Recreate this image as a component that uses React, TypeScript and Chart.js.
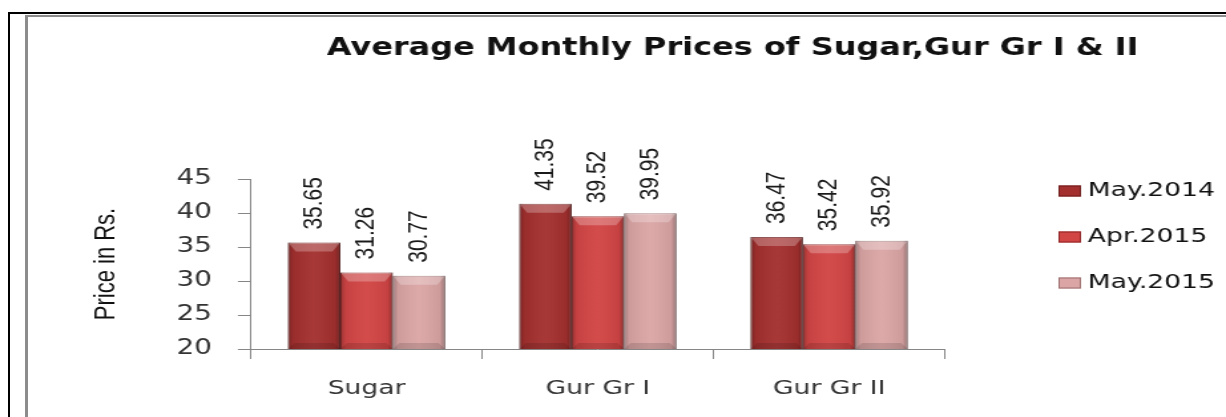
import React, { useEffect, useRef } from "react";
import { Chart, registerables } from "chart.js";

Chart.register(...registerables);

// ---- data ----
const categories = ["Sugar", "Gur Gr I", "Gur Gr II"];
const seriesLabels = ["May.2014", "Apr.2015", "May.2015"];
const may2014 = [35.65, 41.35, 36.47];
const apr2015 = [31.26, 39.52, 35.42];
const may2015 = [30.77, 39.95, 35.92];
const yTicks = [20, 25, 30, 35, 40, 45];
const chartTitle = "Average Monthly Prices of Sugar,Gur Gr I & II";
const yAxisTitle = "Price in Rs.";

// ---- styles ----
const seriesColors = ["#a3302f", "#d24545", "#dba5a5"];
const seriesBorders = ["#6e1d1d", "#8f2525", "#9c6f6f"];
const PAGE_W = 1226;
const PAGE_H = 417;
const STRETCH = 1.33; // the reference is horizontally stretched
const LOGICAL_W = Math.round(PAGE_W / STRETCH);

const bevelPlugin = {
  id: "bevel",
  afterDatasetsDraw(chart: any) {
    const ctx = chart.ctx;
    const area = chart.chartArea;
    ctx.save();
    ctx.beginPath();
    ctx.rect(area.left, area.top, area.right - area.left, area.bottom - area.top);
    ctx.clip();
    chart.data.datasets.forEach((_ds: any, di: number) => {
      const meta = chart.getDatasetMeta(di);
      meta.data.forEach((bar: any) => {
        const { x, y, base, width } = bar.getProps(["x", "y", "base", "width"], true);
        const left = x - width / 2;
        const bottom = Math.min(base, area.bottom);
        const h = bottom - y;
        const g = ctx.createLinearGradient(left, 0, left + width, 0);
        g.addColorStop(0, "rgba(0,0,0,0.28)");
        g.addColorStop(0.1, "rgba(0,0,0,0.06)");
        g.addColorStop(0.5, "rgba(255,255,255,0.04)");
        g.addColorStop(0.9, "rgba(0,0,0,0.06)");
        g.addColorStop(1, "rgba(0,0,0,0.32)");
        ctx.fillStyle = g;
        ctx.fillRect(left, y, width, h);
        // top bevel
        ctx.beginPath();
        ctx.moveTo(left, y);
        ctx.lineTo(left + width, y);
        ctx.lineTo(left + width - 6, y + 9);
        ctx.lineTo(left + 6, y + 9);
        ctx.closePath();
        ctx.fillStyle = "rgba(255,255,255,0.25)";
        ctx.fill();
        // bottom bevel
        ctx.beginPath();
        ctx.moveTo(left, bottom);
        ctx.lineTo(left + width, bottom);
        ctx.lineTo(left + width - 5, bottom - 6);
        ctx.lineTo(left + 5, bottom - 6);
        ctx.closePath();
        ctx.fillStyle = "rgba(0,0,0,0.12)";
        ctx.fill();
      });
    });
    ctx.restore();
  },
};

const valueLabelPlugin = {
  id: "valueLabels",
  afterDatasetsDraw(chart: any) {
    const ctx = chart.ctx;
    chart.data.datasets.forEach((ds: any, di: number) => {
      const meta = chart.getDatasetMeta(di);
      meta.data.forEach((bar: any, i: number) => {
        const v = ds.data[i];
        ctx.save();
        ctx.translate(bar.x, bar.y - 13);
        ctx.rotate(-Math.PI / 2);
        ctx.font = '21px "Liberation Sans"';
        ctx.fillStyle = "#1a1a1a";
        ctx.textAlign = "left";
        ctx.textBaseline = "middle";
        ctx.fillText(v.toFixed(2), 0, 0);
        ctx.restore();
      });
    });
  },
};

const titlePlugin = {
  id: "customTitle",
  afterDraw(chart: any) {
    const ctx = chart.ctx;
    ctx.save();
    ctx.font = 'bold 24px "DejaVu Sans"';
    ctx.fillStyle = "#111";
    ctx.textAlign = "center";
    ctx.textBaseline = "alphabetic";
    ctx.fillText(chartTitle, 551, 55);
    ctx.restore();
  },
};

const legendPlugin = {
  id: "customLegend",
  afterDraw(chart: any) {
    const ctx = chart.ctx;
    const firstRow = 191;
    const rowGap = 46;
    const boxLeft = 796;
    const boxW = 17;
    const boxH = 11;
    const textLeft = 818;
    chart.data.datasets.forEach((ds: any, i: number) => {
      const cy = firstRow + i * rowGap;
      ctx.save();
      ctx.fillStyle = ds.backgroundColor;
      ctx.fillRect(boxLeft, cy - boxH / 2, boxW, boxH);
      ctx.strokeStyle = ds.borderColor;
      ctx.lineWidth = 1;
      ctx.strokeRect(boxLeft + 0.5, cy - boxH / 2 + 0.5, boxW - 1, boxH - 1);
      ctx.font = '20px "DejaVu Sans"';
      ctx.fillStyle = "#111";
      ctx.textAlign = "left";
      ctx.textBaseline = "middle";
      ctx.fillText(ds.label, textLeft, cy);
      ctx.restore();
    });
  },
};

export default function App() {
  const canvasRef = useRef<HTMLCanvasElement | null>(null);

  useEffect(() => {
    if (!canvasRef.current) return;
    const seriesValues = [may2014, apr2015, may2015];
    const chart = new Chart(canvasRef.current, {
      type: "bar",
      data: {
        labels: categories,
        datasets: seriesLabels.map((label, i) => ({
          label,
          data: seriesValues[i],
          backgroundColor: seriesColors[i],
          borderColor: seriesBorders[i],
          borderWidth: 1,
          barPercentage: 1,
          categoryPercentage: 0.68,
        })),
      },
      options: {
        responsive: false,
        maintainAspectRatio: false,
        animation: false,
        layout: { padding: { left: 67, top: 179, right: LOGICAL_W - 710.5, bottom: 0 } },
        plugins: {
          legend: { display: false },
          title: { display: false },
          tooltip: { enabled: false },
        },
        scales: {
          x: {
            type: "category",
            offset: true,
            grid: {
              offset: true,
              drawOnChartArea: false,
              drawTicks: true,
              tickLength: 10,
              color: "#868686",
            },
            border: { color: "#868686", width: 1 },
            ticks: {
              font: { family: "DejaVu Sans", size: 20 },
              color: "#333",
              padding: 18,
              maxRotation: 0,
            },
            afterFit: (s: any) => {
              s.height = PAGE_H - 349;
            },
          },
          y: {
            min: 20,
            max: 45,
            afterBuildTicks: (s: any) => {
              s.ticks = yTicks.map((v) => ({ value: v }));
            },
            ticks: {
              font: { family: "DejaVu Sans", size: 21 },
              color: "#333",
              padding: 19.5,
            },
            grid: {
              drawOnChartArea: false,
              drawTicks: true,
              tickLength: 9.8,
              color: "#868686",
            },
            border: { color: "#868686", width: 1 },
            title: {
              display: true,
              text: yAxisTitle,
              font: { family: "Liberation Sans", size: 22 },
              color: "#111",
              padding: 0,
            },
            afterFit: (s: any) => {
              s.width = 188.7 - 67;
            },
          },
        },
      },
      plugins: [bevelPlugin, valueLabelPlugin, titlePlugin, legendPlugin],
    } as any);
    return () => chart.destroy();
  }, []);

  return (
    <div style={{ position: "absolute", left: 0, top: 0, width: PAGE_W, height: PAGE_H, overflow: "hidden", background: "#fff" }}>
      <div
        style={{
          position: "absolute",
          left: 0,
          top: 0,
          width: LOGICAL_W,
          height: PAGE_H,
          transform: `scaleX(${PAGE_W / LOGICAL_W})`,
          transformOrigin: "0 0",
        }}
      >
        <canvas
          ref={canvasRef}
          width={LOGICAL_W}
          height={PAGE_H}
          style={{ display: "block", width: LOGICAL_W, height: PAGE_H }}
        />
      </div>
      {/* outer black frame */}
      <div style={{ position: "absolute", left: 8, top: 12, width: PAGE_W - 8, height: 2, background: "#000" }} />
      <div style={{ position: "absolute", left: 8, top: 12, width: 2, height: PAGE_H - 12, background: "#000" }} />
      {/* inner grey frame */}
      <div style={{ position: "absolute", left: 25, top: 15, width: PAGE_W - 25, height: 2, background: "#8c8c8c" }} />
      <div style={{ position: "absolute", left: 25, top: 15, width: 3, height: PAGE_H - 15, background: "#8c8c8c" }} />
    </div>
  );
}
